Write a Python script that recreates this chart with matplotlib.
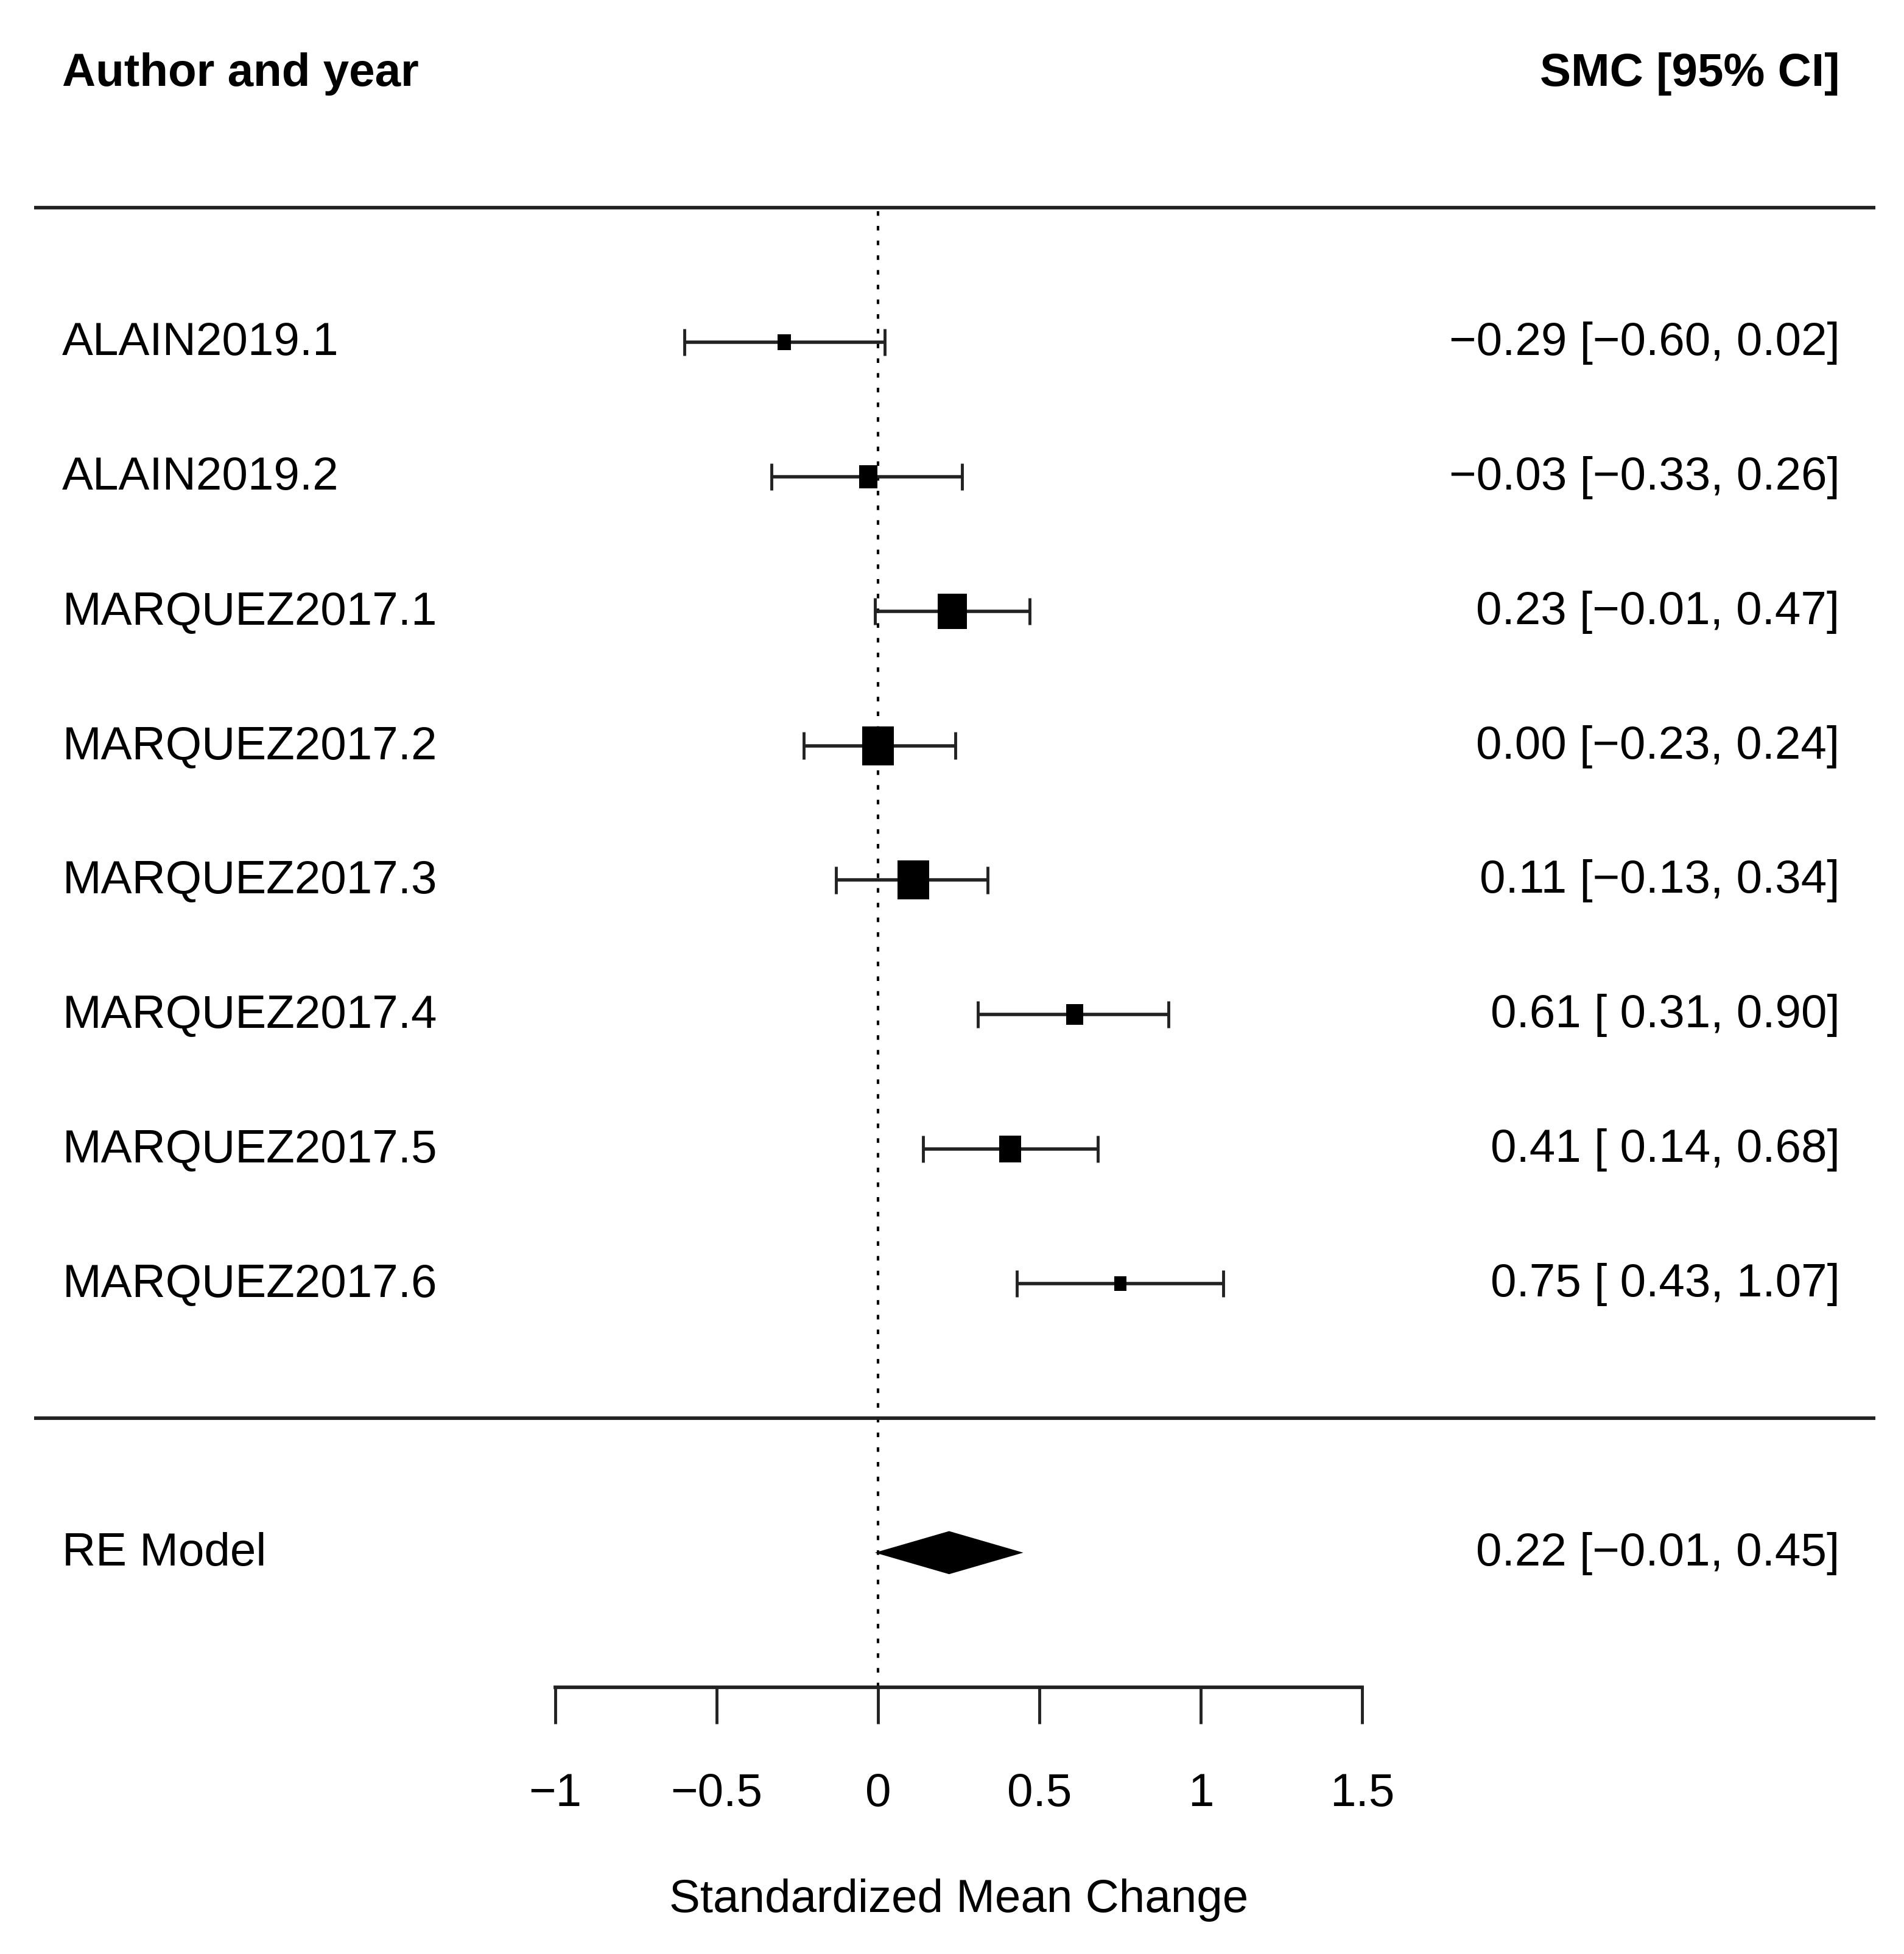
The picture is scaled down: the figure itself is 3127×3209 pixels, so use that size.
import matplotlib.pyplot as plt
from matplotlib.path import Path

# study data
studies = ["ALAIN2019.1", "ALAIN2019.2", "MARQUEZ2017.1", "MARQUEZ2017.2",
           "MARQUEZ2017.3", "MARQUEZ2017.4", "MARQUEZ2017.5", "MARQUEZ2017.6"]
smc = [-0.29, -0.03, 0.23, 0.00, 0.11, 0.61, 0.41, 0.75]
ci_low = [-0.60, -0.33, -0.01, -0.23, -0.13, 0.31, 0.14, 0.43]
ci_high = [0.02, 0.26, 0.47, 0.24, 0.34, 0.90, 0.68, 1.07]
weights = [7.3, 10.7, 16.6, 18.0, 18.3, 9.7, 12.5, 6.9]  # percent

# random effects summary
re_label = "RE Model"
re_est, re_low, re_high = 0.22, -0.01, 0.45

xticks = [-1, -0.5, 0, 0.5, 1, 1.5]
xticklabels = ["\u22121", "\u22120.5", "0", "0.5", "1", "1.5"]

plt.rcParams['font.family'] = ['Liberation Sans', 'DejaVu Sans']
FS = 55

fig = plt.figure(figsize=(31.27, 32.09), dpi=100)
ax = fig.add_axes([0, 0, 1, 1])
ax.set_xlim(-2.721, 3.179)
ax.set_ylim(-3.984, 10.544)

k = len(studies)
rows = list(range(k, 0, -1))


def fmt(v):
    s = f"{abs(v):.2f}"
    return ("\u2212" if v < 0 else "") + s


def fmt_ci(est, lo, hi):
    lo_s = fmt(lo) if lo < 0 else " " + fmt(lo)
    return f"{fmt(est)} [{lo_s}, {fmt(hi)}]"


# rectangle-ish marker (slightly taller than wide, like the original)
aspect = 1.22
rect = Path([(-0.5, -0.5 * aspect), (0.5, -0.5 * aspect), (0.5, 0.5 * aspect),
             (-0.5, 0.5 * aspect), (-0.5, -0.5 * aspect)],
            [Path.MOVETO, Path.LINETO, Path.LINETO, Path.LINETO, Path.CLOSEPOLY])

text_x_left = -2.528
text_x_right = 2.98
base_off = 0.095  # baseline offset so text sits centred on the row

# reference line
ax.vlines(0, -2, k + 1, colors='black', linestyles=(0, (1.8, 4)), lw=3, zorder=1)

# separators
ax.hlines([k + 1, 0], -2.615, 3.09, colors='#222222', lw=4.2)

for y, name, est, lo, hi, w in zip(rows, studies, smc, ci_low, ci_high, weights):
    ax.hlines(y, lo, hi, colors='#222222', lw=4, zorder=2)
    ax.vlines([lo, hi], y - 0.1, y + 0.1, colors='#222222', lw=3.5, zorder=2)
    width_px = w * 2.89
    ax.plot(est, y, marker=rect, markersize=width_px * aspect * 0.72,
            color='black', markeredgewidth=0, zorder=3)
    ax.text(text_x_left, y - base_off, name, fontsize=FS, ha='left', va='baseline')
    ax.text(text_x_right, y - base_off, fmt_ci(est, lo, hi), fontsize=FS,
            ha='right', va='baseline')

# summary diamond
ax.fill([re_low, re_est, re_high, re_est], [-1, -1 + 0.16, -1, -1 - 0.16],
        color='black', lw=0, zorder=3)
ax.text(text_x_left, -1 - base_off, re_label, fontsize=FS, ha='left', va='baseline')
ax.text(text_x_right, -1 - base_off, fmt_ci(re_est, re_low, re_high), fontsize=FS,
        ha='right', va='baseline')

# headers
ax.text(text_x_left, k + 2 - base_off, "Author and year", fontsize=FS,
        fontweight='bold', ha='left', va='baseline')
ax.text(text_x_right, k + 2 - base_off, "SMC [95% CI]", fontsize=FS,
        fontweight='bold', ha='right', va='baseline')

# axis
for s in ['top', 'right', 'left']:
    ax.spines[s].set_visible(False)
ax.spines['bottom'].set_position(('data', -2))
ax.spines['bottom'].set_bounds(-1, 1.5)
ax.spines['bottom'].set_linewidth(4.2)
ax.spines['bottom'].set_color('#222222')
ax.set_yticks([])
ax.set_xticks(xticks)
ax.set_xticklabels(xticklabels)
ax.tick_params(axis='x', direction='out', length=43, width=3.5, pad=58,
               labelsize=FS, color='#222222')

ax.text(0.25, -3.577 - base_off, "Standardized Mean Change", fontsize=FS,
        ha='center', va='baseline')

fig.savefig("out.png", dpi=100)
